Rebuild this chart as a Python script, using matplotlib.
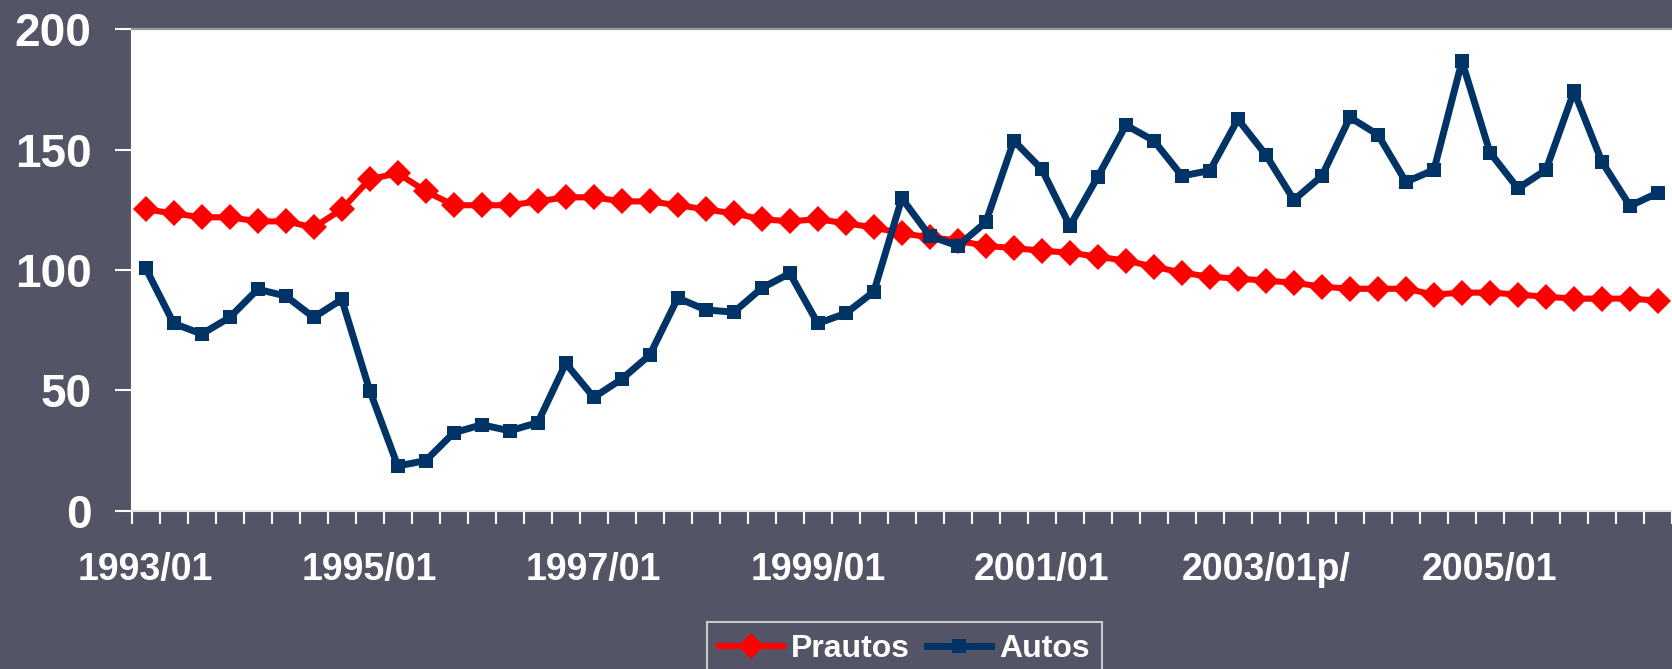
import matplotlib
matplotlib.use("Agg")
import matplotlib.pyplot as plt
import numpy as np

plt.rcParams['font.family'] = ['Liberation Sans', 'DejaVu Sans']
plt.rcParams['font.weight'] = 'bold'

# ---- data (quarterly, 1993/01 onwards) ----
prautos = [125.2, 123.5, 121.9, 121.9, 120.2, 120.2, 117.7, 125.2, 137.7, 140.2, 132.7,
           126.9, 126.9, 126.9, 128.5, 130.2, 130.2, 128.5, 128.5, 126.9, 125.2, 123.5,
           121.1, 120.2, 121.1, 119.4, 117.7, 115.2, 113.6, 112.2, 110.0, 109.1, 108.0,
           107.2, 105.5, 103.9, 101.4, 98.9, 97.2, 96.4, 95.6, 94.7, 93.1, 92.2,
           92.2, 92.2, 89.8, 90.6, 90.6, 89.8, 88.9, 88.1, 88.1, 88.1, 87.3]
autos = [100.7, 77.8, 73.4, 80.3, 92.0, 89.2, 80.3, 87.8, 49.9, 18.6, 20.8,
         32.4, 35.7, 33.2, 36.6, 61.2, 47.1, 54.7, 64.7, 88.4, 83.4, 82.5,
         92.5, 98.6, 77.8, 82.0, 91.0, 129.8, 114.1, 110.0, 119.9, 153.7, 141.8,
         118.3, 138.8, 160.2, 153.7, 139.1, 141.3, 162.6, 147.8, 129.1, 139.1, 163.4,
         156.2, 136.6, 141.6, 186.7, 148.8, 133.9, 141.6, 174.2, 144.9, 126.6, 132.1]
tick_labels = ["1993/01", "1995/01", "1997/01", "1999/01", "2001/01", "2003/01p/", "2005/01"]
label_step = 8
series_names = ["Prautos", "Autos"]
y_ticks = [0, 50, 100, 150, 200]

BG = "#535465"
RED = "#FF0000"
NAVY = "#003366"

W, H = 1672, 669
fig = plt.figure(figsize=(W / 100, H / 100), dpi=100, facecolor=BG)
ax = fig.add_axes([131.7 / W, 1 - 510.7 / H, 1 - 131.7 / W, (510.7 - 29.3) / H])
ax.set_facecolor("white")

x = np.arange(len(prautos))
ax.plot(x, prautos, color=RED, lw=4.4, marker="D", ms=13.5, mec=RED, mfc=RED,
        mew=0, label=series_names[0], zorder=3)
ax.plot(x, autos, color=NAVY, lw=5.0, marker="s", ms=10, mec=NAVY, mfc=NAVY,
        mew=0, label=series_names[1], zorder=4)

ax.set_ylim(0, 200)
ax.set_xlim(-0.5, 54.26)

# y axis
ax.set_yticks(y_ticks)
ax.set_yticklabels([str(v) for v in y_ticks])
ax.tick_params(axis="y", direction="out", length=12, width=1.5, colors="white",
               pad=17, labelsize=33)

# x axis: boundary ticks (minor) + labels (major, no tick)
n = len(prautos)
ax.set_xticks(np.arange(-0.5, n + 0.5, 1.0), minor=True)
ax.set_xticks(np.arange(0, len(tick_labels) * label_step, label_step))
ax.set_xticklabels(tick_labels)
ax.tick_params(axis="x", which="major", length=0, pad=30, labelsize=27, colors="white")
ax.tick_params(axis="x", which="minor", direction="out", length=9, width=1.5, color="white")
for lab in ax.get_xticklabels() + ax.get_yticklabels():
    lab.set_fontweight("bold")

ax.spines["top"].set_color("#9a9a9a")
ax.spines["top"].set_linewidth(1.6)
ax.spines["right"].set_visible(False)
ax.spines["left"].set_color("white")
ax.spines["left"].set_linewidth(1.5)
ax.spines["bottom"].set_color("#e6e6e6")
ax.spines["bottom"].set_linewidth(1.5)

leg = fig.legend(loc="upper center", bbox_to_anchor=(904.5 / W, 1 - 622 / H),
                 ncol=2, frameon=True, fancybox=False, facecolor="none",
                 edgecolor="#e8e8e8", fontsize=23, handlelength=2.0,
                 handletextpad=0.25, columnspacing=0.55, borderpad=0.38,
                 borderaxespad=0)
leg.get_frame().set_linewidth(1.5)
for t in leg.get_texts():
    t.set_color("white")
    t.set_fontweight("bold")

fig.savefig("out.png", dpi=100, facecolor=BG)
